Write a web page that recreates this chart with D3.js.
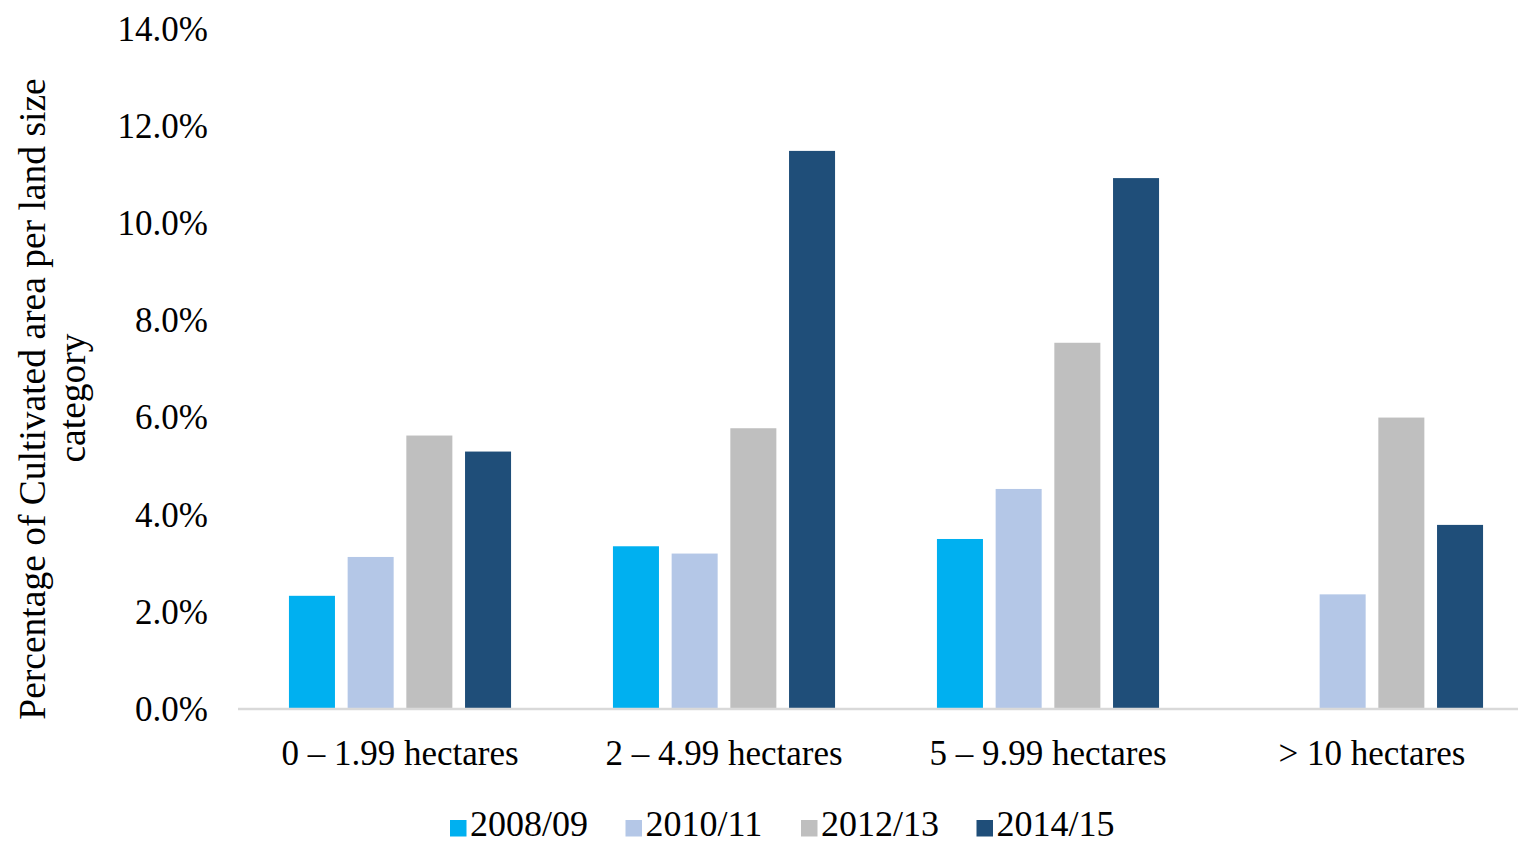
<!DOCTYPE html>
<html>
<head>
<meta charset="utf-8">
<script src="https://cdn.jsdelivr.net/npm/d3@7"></script>
<style>
html, body { margin: 0; padding: 0; background: #fff; }
svg { display: block; }
text { font-family: "Liberation Serif", "Times New Roman", serif; fill: #000; }
</style>
</head>
<body>
<svg id="chart" width="1518" height="844"></svg>
<script>
const categories = ["0 \u2013 1.99 hectares", "2 \u2013 4.99 hectares", "5 \u2013 9.99 hectares", "> 10 hectares"];
const seriesNames = ["2008/09", "2010/11", "2012/13", "2014/15"];
const s2008 = [2.32, 3.34, 3.49, null];
const s2010 = [3.12, 3.19, 4.52, 2.35];
const s2012 = [5.62, 5.77, 7.53, 5.99];
const s2014 = [5.29, 11.48, 10.92, 3.78];
const yTicks = [0, 2, 4, 6, 8, 10, 12, 14];
const colors = ["#00B0F0", "#B4C7E7", "#BFBFBF", "#1F4E79"];
const yTitle = ["Percentage of Cultivated area per land size", "category"];

const seriesValues = [s2008, s2010, s2012, s2014];
const svg = d3.select("#chart");

const x0 = d3.scaleBand().domain(categories).range([238, 1534]).padding(0);
const x1 = d3.scaleBand().domain(seriesNames).range([0, x0.bandwidth()]).paddingInner(0.216).paddingOuter(0.868);
const y = d3.scaleLinear().domain([0, 14]).range([708.5, 28.5]);
const color = d3.scaleOrdinal().domain(seriesNames).range(colors);

// bars
const groups = svg.append("g").selectAll("g")
  .data(categories)
  .join("g")
  .attr("transform", d => `translate(${x0(d)},0)`);

groups.selectAll("rect")
  .data((c, i) => seriesNames.map((s, j) => ({ s, v: seriesValues[j][i] })).filter(d => d.v != null))
  .join("rect")
  .attr("x", d => x1(d.s))
  .attr("width", x1.bandwidth())
  .attr("y", d => y(d.v))
  .attr("height", d => y(0) - y(d.v))
  .attr("fill", d => color(d.s));

// y axis (labels only)
const yAxis = d3.axisLeft(y).tickValues(yTicks).tickSize(0).tickPadding(0)
  .tickFormat(d => d.toFixed(1) + "%");
const gy = svg.append("g").attr("transform", "translate(208,0)").call(yAxis);
gy.select(".domain").remove();
gy.selectAll("text").attr("font-size", 35).attr("font-family", null).attr("fill", "#000").attr("dy", "0.34em");

// x axis line
svg.append("line")
  .attr("x1", 238).attr("x2", 1518)
  .attr("y1", y(0) + 0.5).attr("y2", y(0) + 0.5)
  .attr("stroke", "#D9D9D9").attr("stroke-width", 2.5);

// x axis labels
const xAxis = d3.axisBottom(x0).tickSize(0).tickPadding(0);
const gx = svg.append("g").attr("transform", "translate(0,765)").call(xAxis);
gx.select(".domain").remove();
gx.selectAll("text").attr("font-size", 35).attr("font-family", null).attr("fill", "#000").attr("y", 0).attr("dy", "0");

// y title
svg.append("text")
  .attr("transform", "translate(45,399) rotate(-90)")
  .attr("text-anchor", "middle").attr("font-size", 37.5)
  .text(yTitle[0]);
svg.append("text")
  .attr("transform", "translate(85,398) rotate(-90)")
  .attr("text-anchor", "middle").attr("font-size", 37.5)
  .text(yTitle[1]);

// legend
const legend = svg.append("g").selectAll("g")
  .data(seriesNames)
  .join("g")
  .attr("transform", (d, i) => `translate(${450 + i * 175.5},0)`);
legend.append("rect")
  .attr("x", 0).attr("y", 820).attr("width", 16.5).attr("height", 16.5)
  .attr("fill", d => color(d));
legend.append("text")
  .attr("x", 20).attr("y", 836)
  .attr("font-size", 36)
  .text(d => d);
</script>
</body>
</html>
